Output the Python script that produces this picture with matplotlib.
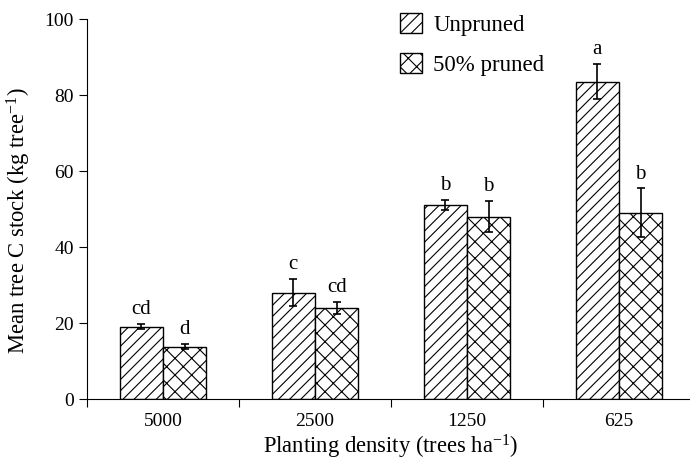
import matplotlib
matplotlib.use('Agg')
import matplotlib.pyplot as plt
import numpy as np

# datos
densidades = ['5000', '2500', '1250', '625']
sin_poda = [19.0, 28.0, 51.0, 83.5]
sin_poda_err = [0.7, 3.5, 1.3, 4.6]
poda_50 = [13.8, 24.0, 48.0, 49.0]
poda_50_err = [0.7, 1.5, 4.0, 6.4]
letras_sin_poda = ['cd', 'c', 'b', 'a']
letras_poda = ['d', 'cd', 'b', 'b']

plt.rcParams['font.family'] = ['Liberation Serif', 'DejaVu Serif']
plt.rcParams['mathtext.default'] = 'regular'
plt.rcParams['hatch.linewidth'] = 0.8

fig = plt.figure(figsize=(6.9, 4.61), dpi=100)
ax = fig.add_axes([87/690, 62/461, 608/690, 380/461])

x = np.arange(len(densidades))
ancho = 0.285

ax.bar(x - ancho/2, sin_poda, ancho, color='white', edgecolor='black',
       hatch='///', linewidth=1, label='Unpruned')
ax.bar(x + ancho/2, poda_50, ancho, color='white', edgecolor='black',
       hatch='xx', linewidth=1, label='50% pruned')
ax.errorbar(x - ancho/2, sin_poda, yerr=sin_poda_err, fmt='none', ecolor='black',
            elinewidth=1.2, capsize=3, capthick=1.2)
ax.errorbar(x + ancho/2, poda_50, yerr=poda_50_err, fmt='none', ecolor='black',
            elinewidth=1.2, capsize=3, capthick=1.2)

# letras de significancia
for i in range(len(x)):
    ax.text(x[i] - ancho/2, sin_poda[i] + sin_poda_err[i] + 1.3, letras_sin_poda[i],
            ha='center', va='bottom', fontsize=15)
    ax.text(x[i] + ancho/2, poda_50[i] + poda_50_err[i] + 1.3, letras_poda[i],
            ha='center', va='bottom', fontsize=15)

ax.set_xlim(-0.5, 3.5)
ax.set_ylim(0, 100)
ax.set_yticks([0, 20, 40, 60, 80, 100])
ax.set_xticks([-0.5, 0.5, 1.5, 2.5, 3.5])
ax.set_xticklabels([])
ax.set_xticks(x, minor=True)
ax.set_xticklabels(densidades, minor=True)
ax.tick_params(axis='x', which='minor', length=0, pad=10, labelsize=14)
ax.tick_params(axis='x', which='major', direction='out', length=6)
ax.tick_params(axis='y', direction='out', length=6, labelsize=14)
ax.spines['top'].set_visible(False)
ax.spines['right'].set_visible(False)

ax.set_ylabel('Mean tree C stock (kg tree$^{-1}$)', fontsize=16.3)
ax.yaxis.set_label_coords(-0.088, 0.47)
ax.set_xlabel('Planting density (trees ha$^{-1}$)', fontsize=16.3, labelpad=2)

fig.legend(loc='upper left', bbox_to_anchor=(400/690, 1 - 13/461), frameon=False,
           fontsize=16.5, handlelength=0.95, handleheight=0.95, labelspacing=0.75,
           handletextpad=0.5, borderpad=0, borderaxespad=0)

fig.savefig('out.png', dpi=100)
